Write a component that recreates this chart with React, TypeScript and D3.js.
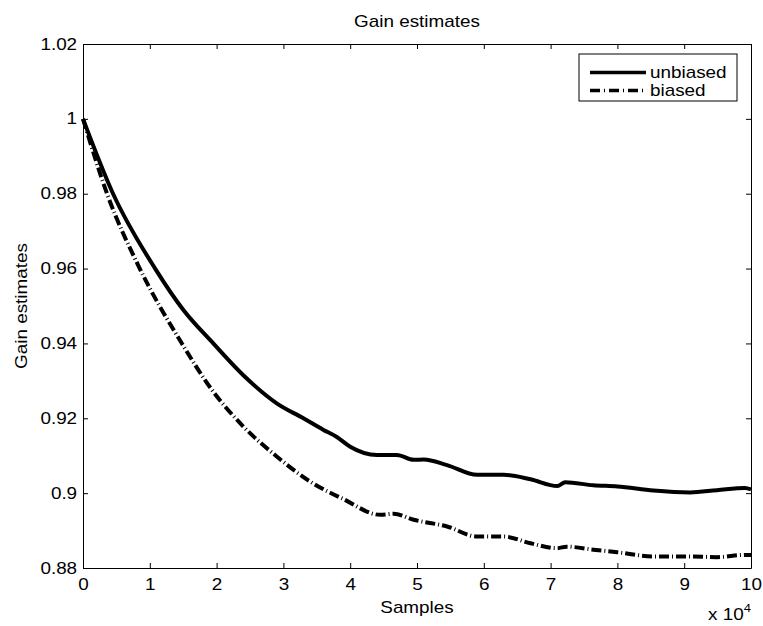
import React, { useEffect, useRef } from 'react';
import * as d3 from 'd3';

// sample index, in units of 10^4
const unbiasedX = [0, 0.45, 1.08, 1.5, 1.95, 2.4, 2.9, 3.3, 3.6, 3.8, 4.0, 4.4, 4.7, 4.95, 5.1, 5.45, 5.9, 6.3, 6.7, 7.1, 7.22, 7.64, 8.0, 8.54, 9.09, 9.49, 9.91, 10.0];
const unbiasedY = [1.0, 0.98, 0.96, 0.949, 0.94, 0.9315, 0.924, 0.92, 0.9169, 0.915, 0.9124, 0.9102, 0.9102, 0.9089, 0.909, 0.9075, 0.9049, 0.9049, 0.9037, 0.9019, 0.9029, 0.9021, 0.9018, 0.9007, 0.9002, 0.9008, 0.9014, 0.901];
const biasedX = [0, 0.36, 0.85, 1.48, 1.93, 2.4, 2.9, 3.4, 3.9, 4.45, 4.65, 4.95, 5.45, 5.9, 6.3, 6.7, 7.1, 7.24, 7.64, 8.0, 8.54, 9.09, 9.49, 9.91, 10.0];
const biasedY = [1.0, 0.98, 0.96, 0.94, 0.9276, 0.9178, 0.9098, 0.9031, 0.8984, 0.8942, 0.8945, 0.8929, 0.8911, 0.8884, 0.8884, 0.8866, 0.8853, 0.8857, 0.8849, 0.8842, 0.8831, 0.8831, 0.8829, 0.8835, 0.8835];

const xTicks = [0, 1, 2, 3, 4, 5, 6, 7, 8, 9, 10];
const yTicks = [0.88, 0.9, 0.92, 0.94, 0.96, 0.98, 1, 1.02];
const seriesNames = ['unbiased', 'biased'];

export default function App() {
  const ref = useRef<SVGSVGElement>(null);

  useEffect(() => {
    const svg = d3.select(ref.current);
    svg.selectAll('*').remove();

    const left = 83, right = 751, top = 44, bottom = 568;
    const font = '"Liberation Sans", Arial, sans-serif';
    const stretch = 'scale(1.18,1)'; // the original text is a bit wider than Liberation Sans

    const x = d3.scaleLinear().domain([0, 10]).range([left, right]);
    const y = d3.scaleLinear().domain([0.88, 1.02]).range([bottom, top]);

    const g = svg.append('g').style('font-family', font).style('font-size', '16px');

    // data lines
    const line = d3.line<[number, number]>().x(d => x(d[0])).y(d => y(d[1])).curve(d3.curveMonotoneX);
    const unb = unbiasedX.map((v, i) => [v, unbiasedY[i]] as [number, number]);
    const bia = biasedX.map((v, i) => [v, biasedY[i]] as [number, number]);

    g.append('path').datum(unb)
      .attr('fill', 'none').attr('stroke', '#000').attr('stroke-width', 4)
      .attr('stroke-linejoin', 'round')
      .attr('d', line);
    g.append('path').datum(bia)
      .attr('fill', 'none').attr('stroke', '#000').attr('stroke-width', 4)
      .attr('stroke-dasharray', '10,3,1,3')
      .attr('d', line);

    // axes (ticks pointing inward, box on)
    const fmtY = (d: any) => String(+d.toFixed(2));
    const bottomAxis = g.append('g').attr('transform', `translate(0,${bottom})`)
      .call(d3.axisBottom(x).tickValues(xTicks).tickSize(-5).tickPadding(11).tickSizeOuter(0).tickFormat(d => String(d)));
    const topAxis = g.append('g').attr('transform', `translate(0,${top})`)
      .call(d3.axisTop(x).tickValues(xTicks).tickSize(-5).tickSizeOuter(0).tickFormat(() => ''));
    const leftAxis = g.append('g').attr('transform', `translate(${left},0)`)
      .call(d3.axisLeft(y).tickValues(yTicks).tickSize(-5).tickPadding(5).tickSizeOuter(0).tickFormat(fmtY));
    const rightAxis = g.append('g').attr('transform', `translate(${right},0)`)
      .call(d3.axisRight(y).tickValues(yTicks).tickSize(-5).tickSizeOuter(0).tickFormat(() => ''));

    [bottomAxis, topAxis, leftAxis, rightAxis].forEach(a => {
      a.selectAll('.domain').attr('stroke', '#000').attr('stroke-width', 1);
      a.selectAll('line').attr('stroke', '#000');
      a.selectAll('text').attr('fill', '#000').attr('transform', stretch)
        .style('font-family', font).style('font-size', '16px');
    });
    bottomAxis.selectAll('text').attr('dy', '0.71em');

    // labels
    g.append('text').attr('transform', `translate(${(left + right) / 2},27) ${stretch}`)
      .attr('text-anchor', 'middle').text('Gain estimates');
    g.append('text').attr('transform', `translate(${(left + right) / 2},613) ${stretch}`)
      .attr('text-anchor', 'middle').text('Samples');
    g.append('text').attr('transform', `translate(27,${(top + bottom) / 2}) rotate(-90) ${stretch}`)
      .attr('text-anchor', 'middle').text('Gain estimates');

    const exp = g.append('text').attr('transform', `translate(708,620) ${stretch}`);
    exp.append('tspan').text('x 10');
    exp.append('tspan').attr('dy', -8).style('font-size', '11px').text('4');

    // legend
    const lg = g.append('g');
    lg.append('rect').attr('x', 579).attr('y', 54).attr('width', 158).attr('height', 47)
      .attr('fill', '#fff').attr('stroke', '#000').attr('stroke-width', 1);
    seriesNames.forEach((name, i) => {
      const ly = 72.5 + i * 18;
      lg.append('line').attr('x1', 590).attr('x2', 646).attr('y1', ly).attr('y2', ly)
        .attr('stroke', '#000').attr('stroke-width', 3.5)
        .attr('stroke-dasharray', i === 1 ? '10,4,1,4' : null);
      lg.append('text').attr('transform', `translate(650,${ly + 5.5}) ${stretch}`).text(name);
    });
  }, []);

  return (
    <svg ref={ref} width={763} height={626}
      style={{ position: 'absolute', left: 0, top: 0, background: '#fff' }} />
  );
}
